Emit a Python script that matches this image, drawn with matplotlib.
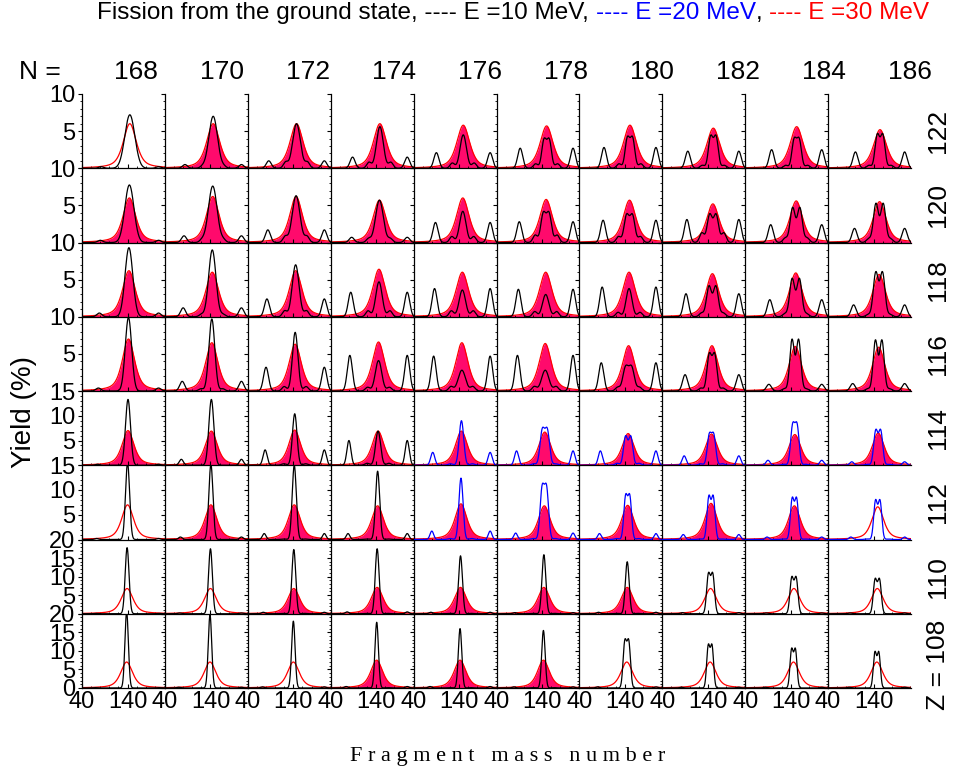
import numpy as np
import matplotlib
matplotlib.use("Agg")
import matplotlib.pyplot as plt
from matplotlib.ticker import FixedLocator, MultipleLocator, FuncFormatter

plt.rcParams['font.family'] = ['Liberation Sans', 'DejaVu Sans']

# ---------------- data ----------------
Z_VALUES = [122, 120, 118, 116, 114, 112, 110, 108]
N_VALUES = [168, 170, 172, 174, 176, 178, 180, 182, 184, 186]
Y_MAX = [10, 10, 10, 10, 15, 15, 20, 20]
X_TICKS = [40, 140]

# central peak height of the cold curve (black, or blue for E=20 MeV)
MAIN_PEAK = [
    [7.2, 7.0, 6.0, 5.6, 4.5, 4.1, 4.35, 4.5, 4.2, 4.7],
    [7.75, 7.6, 6.3, 5.7, 4.2, 4.2, 3.9, 3.9, 4.75, 5.3],
    [9.3, 9.0, 7.0, 4.7, 3.6, 3.0, 3.8, 4.2, 5.2, 6.1],
    [9.9, 9.7, 7.9, 4.1, 2.8, 2.8, 3.5, 5.2, 7.0, 6.9],
    [13.3, 13.3, 10.4, 6.9, 9.0, 7.7, 6.0, 6.7, 8.8, 7.3],
    [15.5, 15.2, 15.0, 13.8, 12.4, 11.4, 9.3, 9.0, 8.6, 8.1],
    [17.8, 17.5, 17.3, 17.5, 15.6, 15.9, 14.0, 11.2, 10.1, 9.6],
    [20.5, 19.7, 18.0, 17.7, 16.0, 15.5, 13.3, 11.9, 10.8, 9.9],
]
# width (sigma, mass units) of each hump of the central peak
MAIN_SIGMA = [
    [11.0, 9.5, 8.5, 7.5, 7.0, 5.0, 5.0, 5.0, 5.0, 5.0],
    [10.0, 9.5, 8.5, 8.5, 7.0, 5.5, 5.5, 5.5, 5.5, 5.5],
    [8.5, 8.0, 7.5, 7.0, 7.0, 7.0, 6.5, 5.5, 5.5, 5.5],
    [7.0, 6.5, 6.0, 7.0, 8.0, 8.0, 6.0, 5.0, 5.0, 5.0],
    [5.5, 5.5, 5.0, 5.5, 5.0, 5.0, 4.5, 4.5, 4.5, 4.5],
    [4.5, 4.5, 4.5, 4.5, 4.5, 4.5, 4.0, 4.0, 4.0, 4.0],
    [4.2, 4.2, 4.2, 4.2, 4.2, 4.2, 4.2, 4.0, 4.0, 4.0],
    [3.8, 3.8, 3.8, 3.8, 3.8, 3.8, 3.8, 3.5, 3.5, 3.5],
]
# centre / maximum ratio of the central peak (1 = single hump)
MAIN_DIP = [
    [1, 1, 1, 1, 1, 0.95, 0.95, 0.92, 0.97, 0.90],
    [1, 1, 1, 1, 1, 0.95, 0.93, 0.85, 0.70, 0.68],
    [1, 1, 1, 1, 1, 1, 1, 0.76, 0.69, 0.79],
    [1, 1, 1, 1, 1, 1, 0.97, 0.92, 0.69, 0.70],
    [1, 1, 1, 1, 1, 0.97, 0.85, 0.98, 0.98, 0.90],
    [1, 1, 1, 1, 1, 0.98, 0.95, 0.90, 0.90, 0.88],
    [1, 1, 1, 1, 1, 1, 1, 0.92, 0.90, 0.90],
    [1, 1, 1, 1, 1, 1, 0.95, 0.92, 0.90, 0.88],
]
# height of the asymmetric (Pb-208) side peaks
MAIN_SIDE = [
    [0.2, 0.5, 1.0, 1.5, 2.1, 2.7, 2.8, 2.3, 2.5, 2.2],
    [0.3, 0.9, 1.7, 0.7, 2.7, 2.8, 3.0, 3.1, 2.4, 1.9],
    [0.5, 1.2, 2.4, 3.3, 3.8, 3.7, 4.0, 3.1, 2.3, 1.6],
    [0.4, 1.3, 3.2, 4.8, 4.7, 4.8, 3.8, 2.2, 0.9, 1.0],
    [0.2, 1.2, 3.1, 5.0, 2.6, 2.9, 2.9, 1.9, 1.0, 0.7],
    [0.2, 0.5, 1.2, 1.2, 1.7, 1.3, 1.2, 1.0, 0.5, 0.5],
    [0.1, 0.2, 0.4, 0.5, 0.4, 0.3, 0.4, 0.3, 0.2, 0.2],
    [0.1, 0.2, 0.3, 0.4, 0.4, 0.3, 0.3, 0.2, 0.2, 0.2],
]
# small shoulders between the central and side peaks
MAIN_SHOULDER = [
    [0.0, 0.2, 0.8, 0.8, 0.7, 0.6, 0.6, 0.4, 0.4, 0.4],
    [0.0, 0.3, 0.8, 0.5, 0.8, 1.0, 0.8, 1.3, 0.6, 0.5],
    [0.0, 0.3, 0.8, 0.8, 0.8, 0.7, 0.6, 0.5, 0.4, 0.3],
    [0.0, 0.3, 0.6, 0.5, 0.6, 0.6, 0.5, 0.4, 0.3, 0.3],
    [0.0, 0.0, 0.3, 0.4, 0.3, 0.3, 0.4, 0.3, 0.2, 0.2],
    [0.0, 0.0, 0.1, 0.1, 0.2, 0.2, 0.2, 0.1, 0.1, 0.1],
    [0.0, 0.0, 0.1, 0.1, 0.1, 0.1, 0.1, 0.0, 0.0, 0.0],
    [0.0, 0.0, 0.0, 0.1, 0.1, 0.1, 0.0, 0.0, 0.0, 0.0],
]
# True where the cold curve is E=20 MeV (blue)
MAIN_IS_BLUE = [
    [0] * 10, [0] * 10, [0] * 10, [0] * 10,
    [0, 0, 0, 0, 1, 1, 1, 1, 1, 1],
    [0, 0, 0, 0, 1, 1, 1, 1, 1, 1],
    [0] * 10, [0] * 10,
]
# peak height of the hot (E=30 MeV) curve
HOT_PEAK = [
    [6.0, 6.0, 6.0, 6.0, 5.8, 5.7, 5.8, 5.4, 5.6, 5.2],
    [6.0, 6.2, 6.2, 5.7, 6.0, 5.8, 5.7, 5.2, 5.6, 5.5],
    [6.2, 6.0, 6.2, 6.4, 6.0, 6.0, 6.0, 5.8, 5.9, 5.7],
    [7.0, 6.5, 6.3, 6.6, 6.5, 6.4, 6.1, 6.1, 6.0, 5.9],
    [7.0, 6.9, 7.1, 6.9, 6.9, 6.7, 6.4, 6.3, 6.2, 6.5],
    [7.0, 7.0, 7.0, 6.8, 7.2, 6.8, 6.9, 7.3, 6.8, 6.6],
    [6.8, 6.8, 6.8, 7.1, 7.1, 7.1, 7.1, 6.8, 6.8, 6.8],
    [7.0, 7.0, 7.0, 7.5, 7.5, 7.5, 7.0, 7.0, 7.0, 7.0],
]
HOT_FWHM = [34, 33, 33, 32, 31, 31, 31, 31]
HOT_FILLED = [
    [0, 1, 1, 1, 1, 1, 1, 1, 1, 1],
    [1] * 10, [1] * 10, [1] * 10, [1] * 10,
    [0, 1, 1, 1, 1, 1, 1, 1, 1, 0],
    [0, 0, 1, 1, 1, 1, 1, 0, 0, 0],
    [0, 0, 0, 1, 1, 1, 0, 0, 0, 0],
]
SIDE_SIGMA = [5.5, 5.5, 5.5, 5.5, 4.5, 4.0, 4.0, 4.0]
HEAVY_FRAGMENT = 208

# ---------------- helpers ----------------
def gauss(x, mu, s):
    return np.exp(-0.5 * ((x - mu) / s) ** 2)

_t = np.linspace(-8, 8, 3201)
def split_ratio(ratio):
    """half-distance / sigma of two equal humps giving the requested dip"""
    if ratio >= 1:
        return 0.0
    def dip(r):
        f = gauss(_t, r, 1) + gauss(_t, -r, 1)
        return f[1600] / f.max()
    lo, hi = 1.0, 3.5
    for _ in range(50):
        mid = 0.5 * (lo + hi)
        if dip(mid) > ratio:
            lo = mid
        else:
            hi = mid
    return 0.5 * (lo + hi)

X = np.linspace(40, 222, 900)
XMIN, XMAX = 40, 222

# ---------------- figure ----------------
W, H = 957, 775
fig = plt.figure(figsize=(W / 100, H / 100), dpi=100)
left, right, top, bottom = 82, 911, 94, 688
nrow, ncol = len(Z_VALUES), len(N_VALUES)
cw = (right - left) / ncol
rh = (bottom - top) / nrow

FILL = '#ff0a6c'
XTICKFS = 17
YTICKFS = 17
LABFS = 19

for i, Z in enumerate(Z_VALUES):
    for j, N in enumerate(N_VALUES):
        ax = fig.add_axes([(left + j * cw) / W, 1 - (top + (i + 1) * rh) / H,
                           cw / W, rh / H])
        A = Z + N
        c = A / 2.0
        # hot curve
        g = HOT_FWHM[i] / 2.0
        u = (X - c) / g
        hot = HOT_PEAK[i][j] * (0.6 / (1 + u ** 2) + 0.4 * np.exp(-np.log(2) * u ** 2))
        if HOT_FILLED[i][j]:
            ax.fill_between(X, 0, hot, color=FILL, lw=0, zorder=1)
        ax.plot(X, hot, color='#ff0000', lw=0.9, zorder=2)
        # cold curve
        s = MAIN_SIGMA[i][j]
        d = split_ratio(MAIN_DIP[i][j]) * s
        core = gauss(X, c - d, s) + gauss(X, c + d, s)
        core = core / core.max() * MAIN_PEAK[i][j]
        sh = MAIN_SHOULDER[i][j] * (gauss(X, c - 24, 5) + gauss(X, c + 24, 5))
        ss = SIDE_SIGMA[i]
        side = MAIN_SIDE[i][j] * (gauss(X, A - HEAVY_FRAGMENT, ss) + gauss(X, HEAVY_FRAGMENT, ss))
        cold = core + sh + side
        col = '#0000ff' if MAIN_IS_BLUE[i][j] else '#000000'
        ax.plot(X, cold, color=col, lw=0.9, zorder=3)

        ax.set_xlim(XMIN, XMAX)
        ax.set_ylim(0, Y_MAX[i])
        ax.patch.set_alpha(0)
        for sp in ['top', 'right']:
            ax.spines[sp].set_visible(False)
        for sp in ['left', 'bottom']:
            ax.spines[sp].set_linewidth(0.9)
        ax.xaxis.set_major_locator(FixedLocator(X_TICKS))
        ax.xaxis.set_minor_locator(MultipleLocator(20))
        ax.yaxis.set_major_locator(MultipleLocator(5))
        ax.yaxis.set_minor_locator(MultipleLocator(1))
        ax.tick_params(axis='x', which='major', direction='in', length=3, width=0.8)
        ax.tick_params(axis='x', which='minor', direction='in', length=1.5, width=0.6)
        ax.tick_params(axis='y', which='major', direction='out', length=3, width=0.8)
        ax.tick_params(axis='y', which='minor', direction='out', length=1.5, width=0.6)
        if i == nrow - 1:
            ax.tick_params(axis='x', labelsize=XTICKFS, pad=2)
        else:
            ax.tick_params(axis='x', labelbottom=False)
        if j == 0:
            last = (i == nrow - 1)
            ax.yaxis.set_major_formatter(FuncFormatter(
                lambda v, p, last=last: ('%d' % v) if (v > 0 or last) else ''))
            ax.tick_params(axis='y', labelsize=YTICKFS, pad=2)
        else:
            ax.tick_params(axis='y', labelleft=False)

# column labels
fig.text(40 / W, 1 - 72 / H, 'N =', fontsize=LABFS, ha='center', va='center')
for j, N in enumerate(N_VALUES):
    fig.text((136 + 86.0 * j) / W, 1 - 72 / H, str(N), fontsize=LABFS,
             ha='center', va='center')

# row labels
for i, Z in enumerate(Z_VALUES):
    yc = top + (i + 0.5) * rh
    if i == nrow - 1:
        fig.text(938 / W, 1 - 620 / H, 'Z = %d' % Z, fontsize=LABFS, rotation=90,
                 ha='center', va='top')
    else:
        fig.text(938 / W, 1 - yc / H, str(Z), fontsize=LABFS, rotation=90,
                 ha='center', va='center')

fig.text(24 / W, 1 - 412 / H, 'Yield (%)', fontsize=20, rotation=90,
         ha='center', va='center')
fig.text(508 / W, 1 - 757 / H, ' '.join('Fragment') + '   ' + ' '.join('mass') + '   ' + ' '.join('number'),
         fontsize=16, family='Liberation Serif', ha='center', va='center')

# multi-coloured title
pieces = [('Fission from the ground state, ---- E =10 MeV, ', 'black'),
          ('---- E =20 MeV', '#0000ff'), (', ', 'black'),
          ('---- E =30 MeV', '#ff0000')]
renderer = fig.canvas.get_renderer()
xpos = 97 / W
for txt, colr in pieces:
    t = fig.text(xpos, 1 - 13 / H, txt, fontsize=17.5, color=colr, ha='left', va='center')
    bb = t.get_window_extent(renderer=renderer)
    xpos = bb.x1 / W

fig.savefig('out.png', dpi=100)
